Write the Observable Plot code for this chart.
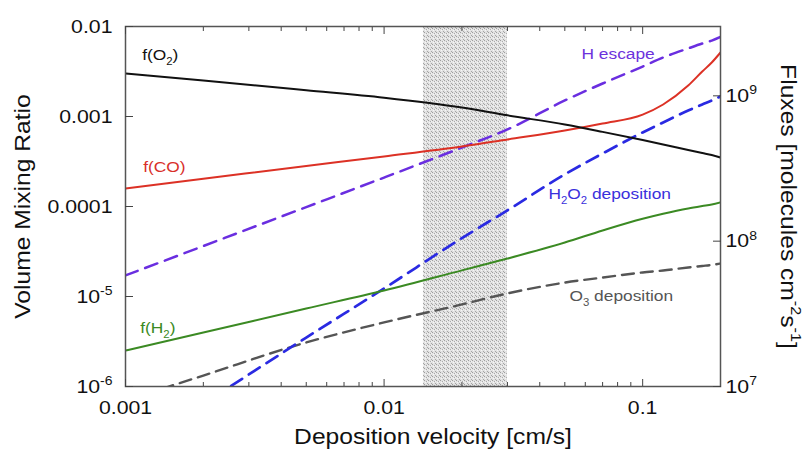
<!DOCTYPE html>
<html><head><meta charset="utf-8">
<script src="https://cdn.jsdelivr.net/npm/d3@7"></script>
<script src="https://cdn.jsdelivr.net/npm/@observablehq/plot@0.6"></script>
<style>
html,body{margin:0;padding:0;background:#fff;}
#chart{width:804px;height:451px;}
</style></head><body><div id="chart"></div>
<script>
// ---------- data ----------
const velocity = [0.001,0.002,0.005,0.01,0.02,0.03,0.05,0.07,0.1,0.12,0.15,0.17,0.185,0.2];
// mixing ratios (left axis)
const fO2 = [3.0e-3,2.51e-3,1.96e-3,1.62e-3,1.26e-3,1.03e-3,8.15e-4,6.75e-4,5.47e-4,4.89e-4,4.25e-4,3.93e-4,3.73e-4,3.5e-4];
const fCO = [1.585e-4,2.03e-4,2.82e-4,3.6e-4,4.64e-4,5.55e-4,6.98e-4,8.35e-4,1.05e-3,1.36e-3,2.21e-3,3.16e-3,3.98e-3,5.14e-3];
const fH2 = [2.51e-6,3.98e-6,7.36e-6,1.166e-5,1.95e-5,2.64e-5,3.98e-5,5.41e-5,7.3e-5,8.3e-5,9.5e-5,1.01e-4,1.05e-4,1.11e-4];
// fluxes (right axis, molecules cm^-2 s^-1)
const hEscape = [5.81e7,9.26e7,1.716e8,2.74e8,4.41e8,5.87e8,9.29e8,1.216e9,1.59e9,1.835e9,2.12e9,2.29e9,2.40e9,2.54e9];
const h2o2Dep = [3.4e6,7.59e6,2.17e7,4.73e7,1.05e8,1.63e8,2.88e8,4.01e8,5.6e8,6.56e8,7.93e8,8.72e8,9.29e8,9.9e8];
const o3Dep   = [8.0e6,1.19e7,2.01e7,2.76e7,3.67e7,4.37e7,5.19e7,5.62e7,6.09e7,6.28e7,6.59e7,6.75e7,6.86e7,7.02e7];
// shaded velocity band
const bandFrom = [0.0142];
const bandTo = [0.03];
// axes
const xDomain = [0.001, 0.2];
const leftDomain = [1e-6, 1e-2];
const rightDomain = [1e7, 3e9];
const xTicks = [0.001, 0.01, 0.1];
const xTickLabels = ["0.001", "0.01", "0.1"];
const xMinorTicks = [0.002,0.003,0.004,0.005,0.006,0.007,0.008,0.009,0.02,0.03,0.04,0.05,0.06,0.07,0.08,0.09];
const leftTicks = [1e-6, 1e-5, 1e-4, 1e-3, 1e-2];
const leftTickLabels = ["10^{-6}", "10^{-5}", "0.0001", "0.001", "0.01"];
const rightTicks = [1e7, 1e8, 1e9];
const rightTickLabels = ["10^{7}", "10^{8}", "10^{9}"];
// series labels
const labelText = ["f(O_{2})", "f(CO)", "f(H_{2})", "H escape", "H_{2}O_{2} deposition", "O_{3} deposition"];
const labelX = [0.00116, 0.00117, 0.00114, 0.058, 0.0432, 0.0521];
const labelY = [4.77e-3, 2.78e-4, 4.41e-6, 5.0e-3, 1.36e-4, 1.0e-5];

// ---------- right axis -> left scale mapping ----------
const lg = Math.log10;
const ratio = lg(leftDomain[1] / leftDomain[0]) / lg(rightDomain[1] / rightDomain[0]);
const toLeft = f => 10 ** (lg(leftDomain[0]) + (lg(f) - lg(rightDomain[0])) * ratio);
const rightTickPos = rightTicks.map(toLeft);
const nearest = (arr, d) => arr.reduce((b, v, i) => Math.abs(lg(v) - lg(d)) < Math.abs(lg(arr[b]) - lg(d)) ? i : b, 0);

const rows = velocity.map((v, i) => ({
  v, O2: fO2[i], CO: fCO[i], H2: fH2[i],
  hEsc: toLeft(hEscape[i]), h2o2: toLeft(h2o2Dep[i]), o3: toLeft(o3Dep[i])
}));
const band = bandFrom.map((a, i) => ({from: a, to: bandTo[i]}));
const labels = labelText.map((t, i) => ({t, x: labelX[i], y: labelY[i]}));
const rightLabelRows = rightTickPos.map((y, i) => ({y, t: rightTickLabels[i]}));

const FONT = "'Liberation Sans', Arial, Helvetica, sans-serif";
const lbl = (i, color) => Plot.text([labels[i]], {x: "x", y: "y", text: "t", fill: color, textAnchor: "start", lineAnchor: "middle", fontSize: 15.5});

const chart = Plot.plot({
  width: 804, height: 451,
  marginLeft: 125, marginRight: 84, marginTop: 26, marginBottom: 65,
  style: {fontFamily: FONT, fontSize: "19px", color: "#111", background: "#fff", overflow: "visible"},
  x: {type: "log", domain: xDomain, label: null},
  y: {type: "log", domain: leftDomain, label: null},
  marks: [
    Plot.rect(band, {x1: "from", x2: "to", fill: "url(#stipple)"}),
    Plot.line(rows, {x: "v", y: "o3", stroke: "#555555", strokeWidth: 2.4, strokeDasharray: "12,7", curve: "monotone-x", clip: true}),
    Plot.line(rows, {x: "v", y: "h2o2", stroke: "#2a2ae2", strokeWidth: 2.7, strokeDasharray: "13,8", curve: "monotone-x", clip: true}),
    Plot.line(rows, {x: "v", y: "hEsc", stroke: "#6a2ee0", strokeWidth: 2.5, strokeDasharray: "13,8", curve: "monotone-x", clip: true}),
    Plot.line(rows, {x: "v", y: "H2", stroke: "#3b8a23", strokeWidth: 2, curve: "monotone-x", clip: true}),
    Plot.line(rows, {x: "v", y: "CO", stroke: "#dc3125", strokeWidth: 2, curve: "monotone-x", clip: true}),
    Plot.line(rows, {x: "v", y: "O2", stroke: "#111111", strokeWidth: 2, curve: "monotone-x", clip: true}),
    Plot.frame({stroke: "#555", strokeWidth: 1.5}),
    Plot.axisY({anchor: "left", ticks: leftTicks, tickSize: -8, tickPadding: 21, tickFormat: d => leftTickLabels[nearest(leftTicks, d)], label: null, stroke: "#444", fill: "#111"}),
    Plot.axisY({anchor: "right", ticks: rightTickPos, tickSize: -8, tickFormat: () => "", label: null, stroke: "#444"}),
    Plot.text(rightLabelRows, {y: "y", text: "t", frameAnchor: "right", textAnchor: "start", lineAnchor: "middle", dx: 5, fontSize: 19, fill: "#111"}),
    Plot.axisX({anchor: "bottom", ticks: xTicks, tickSize: -7, tickPadding: 21, tickFormat: d => xTickLabels[nearest(xTicks, d)], label: null, stroke: "#444", fill: "#111"}),
    Plot.axisX({anchor: "bottom", ticks: xMinorTicks, tickSize: -4, tickFormat: () => "", label: null, stroke: "#444"}),
    Plot.axisX({anchor: "top", ticks: xTicks, tickSize: -7, tickFormat: () => "", label: null, stroke: "#444"}),
    Plot.axisX({anchor: "top", ticks: xMinorTicks, tickSize: -4, tickFormat: () => "", label: null, stroke: "#444"}),
    Plot.text(["Volume Mixing Ratio"], {frameAnchor: "left", text: d => d, rotate: -90, textAnchor: "middle", lineAnchor: "middle", dx: -103, fontSize: 22, fill: "#111"}),
    Plot.text(["Fluxes [molecules cm^{-2}s^{-1}]"], {frameAnchor: "right", text: d => d, rotate: 90, textAnchor: "middle", lineAnchor: "middle", dx: 68, fontSize: 22, fill: "#111"}),
    Plot.text(["Deposition velocity [cm/s]"], {frameAnchor: "bottom", text: d => d, textAnchor: "middle", lineAnchor: "middle", dx: 10, dy: 50, fontSize: 22, fill: "#111"}),
    lbl(0, "#111111"),
    lbl(1, "#d9302a"),
    lbl(2, "#3b8a23"),
    lbl(3, "#6d32dc"),
    lbl(4, "#3a30dc"),
    lbl(5, "#555555")
  ]
});
document.getElementById("chart").appendChild(chart);

// ---------- post-processing: stipple pattern, sub/superscripts, glyph stretch ----------
const NS = "http://www.w3.org/2000/svg";
const defs = document.createElementNS(NS, "defs");
defs.innerHTML = `<pattern id="stipple" width="4" height="4" patternUnits="userSpaceOnUse">
  <rect width="4" height="4" fill="#e2e2e2"/>
  <rect x="0" y="0" width="1" height="1" fill="#9e9e9e"/>
  <rect x="2" y="1" width="1" height="1" fill="#ababab"/>
  <rect x="1" y="2" width="1" height="1" fill="#f6f6f6"/>
  <rect x="3" y="3" width="1" height="1" fill="#a6a6a6"/>
  <rect x="3" y="1" width="1" height="1" fill="#f2f2f2"/>
</pattern>`;
chart.insertBefore(defs, chart.firstChild);

const STRETCH = 1.12;
chart.querySelectorAll("text").forEach(t => {
  const s = t.textContent;
  if (/[_^]\{/.test(s)) {
    const fs = parseFloat(getComputedStyle(t).fontSize) || 16;
    while (t.firstChild) t.removeChild(t.firstChild);
    const re = /([_^])\{([^}]*)\}/g;
    let last = 0, m;
    const add = (txt, kind) => {
      const sp = document.createElementNS(NS, "tspan");
      sp.textContent = txt;
      if (kind) {
        sp.setAttribute("font-size", (fs * 0.66).toFixed(1));
        sp.setAttribute("baseline-shift", kind === "^" ? (fs * 0.42).toFixed(1) : (-fs * 0.3).toFixed(1));
      }
      t.appendChild(sp);
    };
    while ((m = re.exec(s))) {
      if (m.index > last) add(s.slice(last, m.index));
      add(m[2], m[1]);
      last = re.lastIndex;
    }
    if (last < s.length) add(s.slice(last));
  }
  if (s.length) {
    const tr = t.getAttribute("transform") || "";
    t.setAttribute("transform", tr + ` scale(${STRETCH},1)`);
  }
});
</script></body></html>
